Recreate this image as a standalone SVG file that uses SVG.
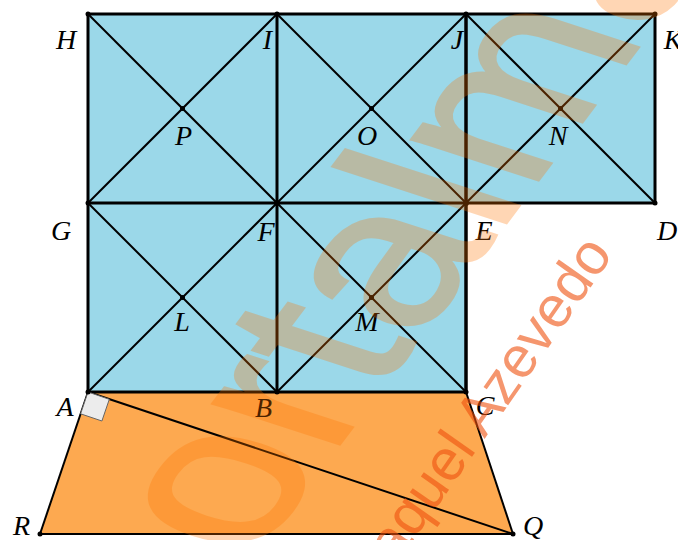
<svg xmlns="http://www.w3.org/2000/svg" width="678" height="540" viewBox="0 0 678 540">
<style>
.sq{fill:#9bd8e9;stroke:none}
.edge{stroke:#000;stroke-width:3;fill:none;stroke-linecap:round}
.diag{stroke:#000;stroke-width:2;fill:none}
.lbl{font-family:"Liberation Serif",serif;font-style:italic;font-size:28px;fill:#000;text-anchor:middle}
.dot{fill:#000}
.wm1{font-family:"Liberation Sans",Arial,sans-serif;font-size:238px;fill:#ff7500;stroke:#ff7500;stroke-width:3}
.wm2{font-family:"Liberation Sans",Arial,sans-serif;font-size:58px;fill:#ee500d;fill-opacity:0.6}
</style>
<rect width="678" height="540" fill="#fff"/>
<g id="fills">
<rect class="sq" x="88" y="14" width="567" height="189"/>
<rect class="sq" x="88" y="203" width="378" height="189"/>
<polygon id="trapezoid" points="88,392 466,392 513,534 40,534" fill="#fda950"/>
</g>
<g id="connectors">
<g class="diag">
<line x1="88" y1="14" x2="277" y2="203"/><line x1="277" y1="14" x2="88" y2="203"/>
<line x1="277" y1="14" x2="466" y2="203"/><line x1="466" y1="14" x2="277" y2="203"/>
<line x1="466" y1="14" x2="655" y2="203"/><line x1="655" y1="14" x2="466" y2="203"/>
<line x1="88" y1="203" x2="277" y2="392"/><line x1="277" y1="203" x2="88" y2="392"/>
<line x1="277" y1="203" x2="466" y2="392"/><line x1="466" y1="203" x2="277" y2="392"/>
<line x1="88" y1="392" x2="513" y2="534"/>
<line x1="88" y1="392" x2="40" y2="534"/>
<line x1="466" y1="392" x2="513" y2="534"/>
<line x1="40" y1="534" x2="513" y2="534"/>
</g>
<g class="edge">
<line x1="88" y1="14" x2="655" y2="14"/>
<line x1="88" y1="203" x2="655" y2="203"/>
<line x1="88" y1="392" x2="466" y2="392"/>
<line x1="88" y1="14" x2="88" y2="392"/>
<line x1="277" y1="14" x2="277" y2="392"/>
<line x1="466" y1="14" x2="466" y2="392" stroke-width="3.5"/>
<line x1="655" y1="14" x2="655" y2="203"/>
</g>
<polygon id="right-angle" points="88,392 80.6,413.8 101.9,421 109.3,399.3" fill="#ececec" stroke="#666" stroke-width="1"/>
</g>
<g id="points">
<circle class="dot" cx="88" cy="14" r="2.5"/><circle class="dot" cx="277" cy="14" r="2.5"/>
<circle class="dot" cx="466" cy="14" r="2.5"/><circle class="dot" cx="655" cy="14" r="2.5"/>
<circle class="dot" cx="88" cy="203" r="2.5"/><circle class="dot" cx="277" cy="203" r="3"/>
<circle class="dot" cx="466" cy="203" r="3"/><circle class="dot" cx="655" cy="203" r="2.5"/>
<circle class="dot" cx="88" cy="392" r="2.5"/><circle class="dot" cx="277" cy="392" r="2.5"/>
<circle class="dot" cx="466" cy="392" r="2.5"/>
<circle class="dot" cx="182.5" cy="108.5" r="2.5"/><circle class="dot" cx="371.5" cy="108.5" r="2.5"/>
<circle class="dot" cx="560.5" cy="108.5" r="2.5"/><circle class="dot" cx="182.5" cy="297.5" r="2.5"/>
<circle class="dot" cx="371.5" cy="297.5" r="2.5"/>
<circle class="dot" cx="40" cy="534" r="2.5"/><circle class="dot" cx="513" cy="534" r="2.5"/>
</g>
<g id="labels">
<text id="lH" class="lbl" x="66" y="49">H</text>
<text id="lI" class="lbl" x="267.5" y="49">I</text>
<text id="lJ" class="lbl" x="457" y="49">J</text>
<text id="lK" class="lbl" x="673" y="49">K</text>
<text id="lP" class="lbl" x="183.5" y="145">P</text>
<text id="lO" class="lbl" x="367" y="145">O</text>
<text id="lN" class="lbl" x="558" y="145">N</text>
<text id="lG" class="lbl" x="61" y="240">G</text>
<text id="lF" class="lbl" x="266" y="241">F</text>
<text id="lE" class="lbl" x="484" y="240">E</text>
<text id="lD" class="lbl" x="667" y="240">D</text>
<text id="lL" class="lbl" x="182" y="331">L</text>
<text id="lM" class="lbl" x="367" y="331">M</text>
<text id="lA" class="lbl" x="65" y="416">A</text>
<text id="lB" class="lbl" x="263.5" y="417">B</text>
<text id="lC" class="lbl" x="485" y="415">C</text>
<text id="lR" class="lbl" x="21.5" y="535">R</text>
<text id="lQ" class="lbl" x="533" y="535">Q</text>
</g>
<g id="watermark">
<g opacity="0.29"><text class="wm1" transform="translate(250,563) rotate(-53) skewX(19)">ortalma</text></g>
<text class="wm2" text-anchor="end" transform="translate(614,254) rotate(-55)">Raquel Azevedo</text>
</g>
</svg>
